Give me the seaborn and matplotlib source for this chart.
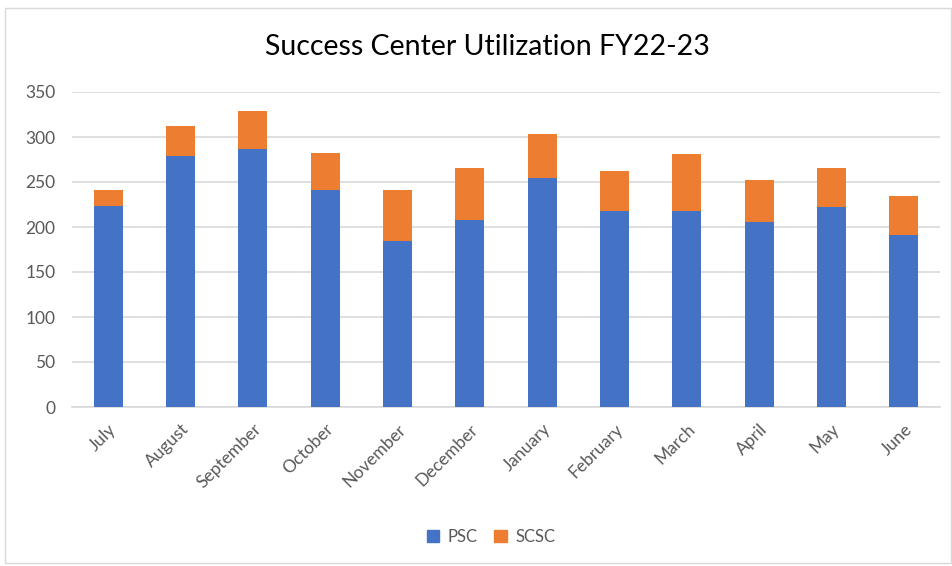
import matplotlib
matplotlib.use("Agg")
import matplotlib.pyplot as plt
import seaborn as sns
import pandas as pd
from matplotlib.patches import Rectangle, Patch

months = ["July", "August", "September", "October", "November", "December",
          "January", "February", "March", "April", "May", "June"]
psc = [223, 279, 287, 241, 185, 208, 254, 218, 218, 206, 222, 191]
scsc = [18, 33, 42, 41, 56, 58, 49, 44, 63, 46, 44, 43]
yticks = [0, 50, 100, 150, 200, 250, 300, 350]

sns.set_theme(style="white")
plt.rcParams['font.family'] = ['Lato', 'DejaVu Sans']

df = pd.DataFrame({"Month": months, "PSC": psc, "SCSC": scsc})
df["Total"] = df["PSC"] + df["SCSC"]

blue = "#4472C4"
orange = "#ED7D31"

fig = plt.figure(figsize=(9.52, 5.66), dpi=100)
ax = fig.add_axes([72/952, 1-407/566, 868/952, 315/566])

sns.barplot(data=df, x="Month", y="Total", color=orange, width=0.4,
            saturation=1, ax=ax, zorder=3, linewidth=0)
sns.barplot(data=df, x="Month", y="PSC", color=blue, width=0.4,
            saturation=1, ax=ax, zorder=3, linewidth=0)

ax.set_ylim(0, 350)
ax.set_xlim(-0.5, len(months) - 0.5)
ax.set_yticks(yticks)
ax.set_yticklabels([str(t) for t in yticks])
ax.yaxis.grid(True, color="#d9d9d9", linewidth=1.2)
ax.set_axisbelow(True)
for s in ["top", "right", "left"]:
    ax.spines[s].set_visible(False)
ax.spines["bottom"].set_color("#d9d9d9")
ax.spines["bottom"].set_linewidth(1.2)
ax.set_xlabel("")
ax.set_ylabel("")
ax.tick_params(axis="y", colors="#595959", labelsize=12.5, length=0, pad=12)
ax.tick_params(axis="x", colors="#595959", labelsize=12.5, length=0, pad=10)
plt.setp(ax.get_xticklabels(), rotation=45, ha="right", rotation_mode="anchor")

fig.text(487/952, 1-47/566, "Success Center Utilization FY22-23",
         ha="center", va="center", fontsize=20.5, color="#000000")

handles = [Patch(color=blue, label="PSC"), Patch(color=orange, label="SCSC")]
fig.legend(handles=handles, loc="center", bbox_to_anchor=(491/952, 1-537/566),
           ncol=2, frameon=False, fontsize=12, handlelength=0.75, handleheight=0.75,
           columnspacing=1.0, handletextpad=0.5, labelcolor="#595959")

fig.patches.append(Rectangle((5/952, 3/566), 946/952, 555/566, transform=fig.transFigure,
                             fill=False, edgecolor="#d9d9d9", linewidth=1))

fig.savefig("out.png", dpi=100)
